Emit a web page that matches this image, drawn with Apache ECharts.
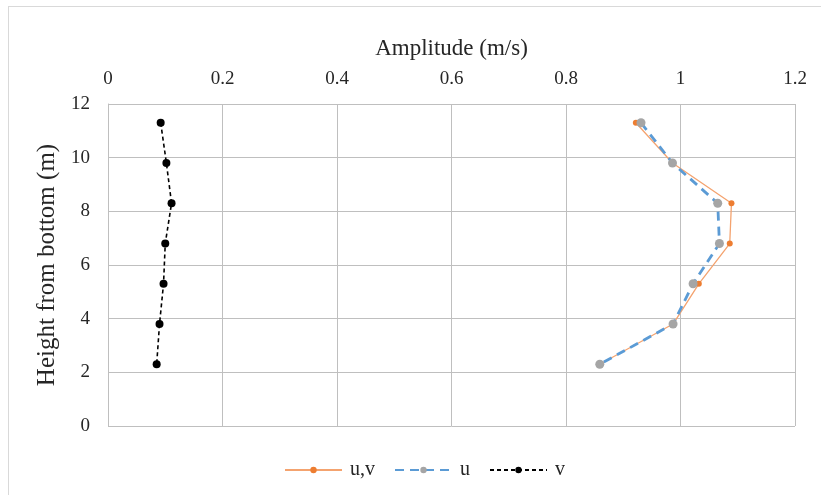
<!DOCTYPE html>
<html>
<head>
<meta charset="utf-8">
<script src="https://cdn.jsdelivr.net/npm/echarts@6/dist/echarts.min.js"></script>
<style>
html,body{margin:0;padding:0;background:#fff;overflow:hidden;}
#frame{position:absolute;left:8px;top:6px;width:830px;height:510px;border:1.5px solid #d9d9d9;box-sizing:border-box;}
#chart{position:absolute;left:0;top:0;width:821px;height:495px;}
</style>
</head>
<body>
<div id="frame"></div>
<div id="chart"></div>
<script>
const heights = [11.3, 9.8, 8.3, 6.8, 5.3, 3.8, 2.3];
const uvAmp = [0.922, 0.986, 1.089, 1.086, 1.032, 0.987, 0.859];
const uAmp  = [0.931, 0.986, 1.065, 1.068, 1.022, 0.987, 0.859];
const vAmp  = [0.092, 0.102, 0.111, 0.100, 0.097, 0.090, 0.085];
const seriesNames = ['u,v', 'u', 'v'];
const xTitle = 'Amplitude (m/s)';
const yTitle = 'Height from bottom (m)';

function pairs(xs){ return xs.map((x,i)=>[x, heights[i]]); }

const font = 'Liberation Serif';
const txt = '#262626';
const chart = echarts.init(document.getElementById('chart'), null, {renderer:'canvas'});
chart.setOption({
  animation:false,
  backgroundColor:'transparent',
  grid:{left:108, right:26, top:104, bottom:69},
  legend:{
    top:455, left:279, itemWidth:57, itemHeight:8, itemGap:19,
    textStyle:{fontFamily:font, fontSize:20, color:txt, padding:[0,0,0,3]},
    data:seriesNames
  },
  xAxis:{
    type:'value', position:'top', min:0, max:1.2, interval:0.2,
    name:xTitle, nameLocation:'middle', nameGap:44,
    nameTextStyle:{fontFamily:font, fontSize:23, color:txt},
    axisLabel:{fontFamily:font, fontSize:19, color:txt, margin:15},
    axisLine:{show:false}, axisTick:{show:false},
    splitLine:{show:true, lineStyle:{color:'#bfbfbf', width:1}}
  },
  yAxis:{
    type:'value', min:0, max:12, interval:2,
    name:yTitle, nameLocation:'middle', nameGap:43, nameRotate:90,
    nameTextStyle:{fontFamily:font, fontSize:25, color:txt},
    axisLabel:{fontFamily:font, fontSize:19, color:txt, margin:18},
    axisLine:{show:true, lineStyle:{color:'#bfbfbf', width:1}}, axisTick:{show:false},
    splitLine:{show:true, lineStyle:{color:'#bfbfbf', width:1}}
  },
  series:[
    {name:seriesNames[0], type:'line', data:pairs(uvAmp), symbol:'circle', symbolSize:6,
     lineStyle:{color:'#F4A36F', width:1.3}, itemStyle:{color:'#ED7D31'}, z:2},
    {name:seriesNames[1], type:'line', data:pairs(uAmp), symbol:'circle', symbolSize:9,
     lineStyle:{color:'#5B9BD5', width:2.8, type:[9,6]}, itemStyle:{color:'#A5A5A5'}, z:3},
    {name:seriesNames[2], type:'line', data:pairs(vAmp), symbol:'circle', symbolSize:8,
     lineStyle:{color:'#000', width:1.6, type:[4,3]}, itemStyle:{color:'#000'}, z:4}
  ]
});
</script>
</body>
</html>
